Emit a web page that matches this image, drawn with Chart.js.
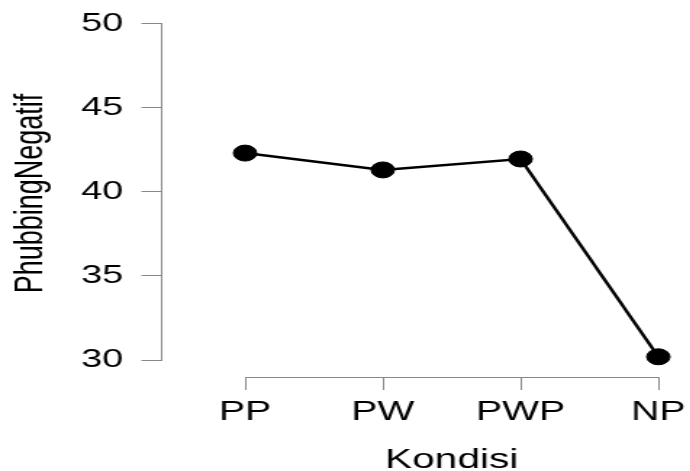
<!DOCTYPE html>
<html>
<head>
<meta charset="utf-8">
<script src="https://cdn.jsdelivr.net/npm/chart.js@4"></script>
<style>
  html, body { margin: 0; padding: 0; background: #fff; overflow: hidden; }
  #chart { display: block; }
</style>
</head>
<body>
<canvas id="chart" width="520" height="471" style="width:754px;height:471px"></canvas>
<script>
const kondisi = ['PP', 'PW', 'PWP', 'NP'];
const phubbingNegatif = [42.3, 41.3, 41.95, 30.2];
const yTicks = [30, 35, 40, 45, 50];

// R-style axis lines that only span the ticks
const axisLines = {
    id: 'axisLines',
    beforeDatasetsDraw: (chart) => {
        const { ctx, scales: { x, y } } = chart;
        ctx.save();
        ctx.strokeStyle = '#888';
        ctx.lineWidth = 1;
        ctx.beginPath();
        const yx = Math.round(y.right) - 0.5;
        ctx.moveTo(yx, y.getPixelForValue(yTicks[0]));
        ctx.lineTo(yx, y.getPixelForValue(yTicks[yTicks.length - 1]));
        const xy = Math.round(x.top) + 0.5;
        ctx.moveTo(x.getPixelForValue(0), xy);
        ctx.lineTo(x.getPixelForValue(kondisi.length - 1), xy);
        ctx.stroke();
        ctx.restore();
    }
};

const renderChart = () => {
    Chart.defaults.font.family = "'Liberation Sans', Arial, sans-serif";
    const ctx = document.getElementById('chart');

    new Chart(ctx, {
        type: 'line',
        data: {
            datasets: [{
                data: kondisi.map((k, i) => ({ x: i, y: phubbingNegatif[i] })),
                borderColor: '#000',
                backgroundColor: '#000',
                borderWidth: 2.5,
                pointRadius: 8,
                pointBorderWidth: 1,
                pointBackgroundColor: '#000',
                pointBorderColor: '#000',
                tension: 0
            }]
        },
        options: {
            responsive: false,
            animation: false,
            layout: { padding: { top: 10, right: 5, left: 0, bottom: 0 } },
            plugins: {
                legend: { display: false },
                tooltip: { enabled: false }
            },
            scales: {
                x: {
                    type: 'linear',
                    min: -0.6,
                    max: 3.6,
                    afterBuildTicks: (scale) => {
                        scale.ticks = kondisi.map((k, i) => ({ value: i }));
                    },
                    afterFit: (scale) => {
                        scale.height = 94;
                        scale.paddingLeft = 0;
                        scale.paddingRight = 0;
                    },
                    border: { display: false },
                    grid: {
                        drawOnChartArea: false,
                        tickLength: 13,
                        color: '#888'
                    },
                    ticks: {
                        autoSkip: false,
                        maxRotation: 0,
                        padding: 6,
                        color: '#000',
                        font: { size: 27 },
                        callback: (value) => kondisi[value]
                    },
                    title: {
                        display: true,
                        text: 'Kondisi',
                        color: '#000',
                        font: { size: 28, lineHeight: 0.8 },
                        padding: 0
                    }
                },
                y: {
                    min: 29,
                    max: 50.8,
                    afterBuildTicks: (scale) => {
                        scale.ticks = yTicks.map(v => ({ value: v }));
                    },
                    afterFit: (scale) => {
                        scale.width = 112;
                        scale.paddingTop = 0;
                        scale.paddingBottom = 0;
                    },
                    border: { display: false },
                    grid: {
                        drawOnChartArea: false,
                        tickLength: 14.5,
                        color: '#888'
                    },
                    ticks: {
                        padding: 12.5,
                        color: '#000',
                        font: { size: 26 }
                    },
                    title: {
                        display: true,
                        text: 'PhubbingNegatif',
                        color: '#000',
                        font: { size: 27, lineHeight: 1 },
                        padding: { top: 8, bottom: 0 }
                    }
                }
            }
        },
        plugins: [axisLines]
    });
}

renderChart();
</script>
</body>
</html>
